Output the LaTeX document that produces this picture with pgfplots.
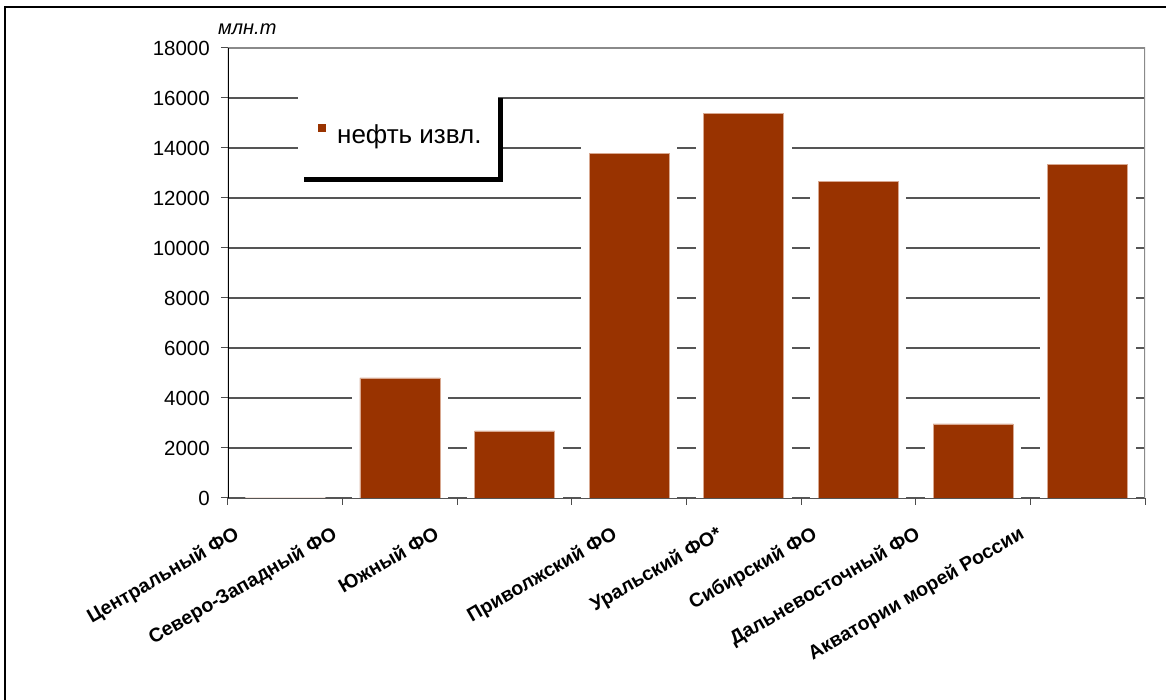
\documentclass[border=0pt]{standalone}
\usepackage{fontspec}
\setmainfont{Liberation Sans}
\usepackage{pgfplots}
\pgfplotsset{compat=1.18}
\usepackage{pgfplotstable}

\definecolor{neft}{HTML}{993300}
\definecolor{neftedge}{HTML}{D8A890}
\definecolor{gridc}{HTML}{555555}
\definecolor{boxc}{HTML}{8A8A8A}

% добыча нефти по округам
\pgfplotstableread{
x val
1 0
2 4800
3 2680
4 13790
5 15390
6 12650
7 2960
8 13350
}\neftdata

\begin{document}
\begin{tikzpicture}
\path[use as bounding box] (-228pt,-202pt) rectangle (938pt,498pt);
\draw[black, line width=1.2pt] (-223pt,-202pt) -- (-223pt,491pt) -- (938pt,491pt);
\begin{axis}[
    at={(0pt,0pt)}, anchor=south west,
    scale only axis,
    width=917pt, height=450pt,
    xmin=0.5, xmax=8.5,
    ymin=0, ymax=18000,
    ytick={0,2000,...,18000},
    xtick={0.5,1.5,...,8.5},
    xticklabels={},
    extra x ticks={0.544,1.399,2.288,3.841,4.757,5.586,6.485,7.392},
    extra x tick labels={Центральный ФО,Северо-Западный ФО,Южный ФО,Приволжский ФО,Уральский ФО*,Сибирский ФО,Дальневосточный ФО,Акватории морей России},
    extra x tick style={major tick length=0pt},
    xticklabel style={font=\bfseries\fontsize{19.5}{22}\selectfont, rotate=30, anchor=north east, inner sep=0pt},
    xticklabel shift=27pt,
    yticklabel style={font=\fontsize{20.5}{24}\selectfont, anchor=east, inner sep=0pt, xshift=-11pt},
    /pgf/number format/assume math mode=true,
    /pgf/number format/1000 sep={},
    scaled y ticks=false,
    tick pos=left,
    tick align=outside,
    major tick length=7pt,
    tick style={black!70, line width=1pt},
    ymajorgrids,
    grid style={gridc, line width=1.4pt},
    axis line style={draw=none},
    legend style={at={(0.0763,0.902)}, anchor=north west, draw=none, fill=white,
        font=\fontsize{26}{30}\selectfont, inner xsep=14pt, inner ysep=30pt},
    legend image code/.code={%
        \path[draw=none, fill=none] (-6pt,-2pt) rectangle (17pt,10pt);
        \path[fill=neft, draw=none] (0pt,2pt) rectangle (8pt,10pt);},
]
\addplot[ybar, bar width=80pt, bar shift=0pt, fill=white, draw=white, line width=16pt, forget plot]
    table[x=x, y=val] {\neftdata};
\addplot[ybar, bar width=80pt, bar shift=0pt, fill=neft, draw=neftedge, line width=0.8pt]
    table[x=x, y=val] {\neftdata};
\addlegendentry{нефть извл.}
\draw[boxc, line width=2pt] (rel axis cs:0,1) -- (rel axis cs:1,1) -- (rel axis cs:1,0);
\draw[black, line width=1.3pt] (rel axis cs:0,0) -- (rel axis cs:0,1);
\draw[black, line width=0.8pt] (rel axis cs:0,0) -- (rel axis cs:1,0);
% тень легенды
\fill[black] (rel axis cs:0.0829,0.7022) rectangle (rel axis cs:0.2999,0.8889);
\end{axis}
\node[anchor=base west, inner sep=0pt, font=\itshape\fontsize{20}{24}\selectfont] at (-10pt,463pt) {млн.т};
\end{tikzpicture}
\end{document}
